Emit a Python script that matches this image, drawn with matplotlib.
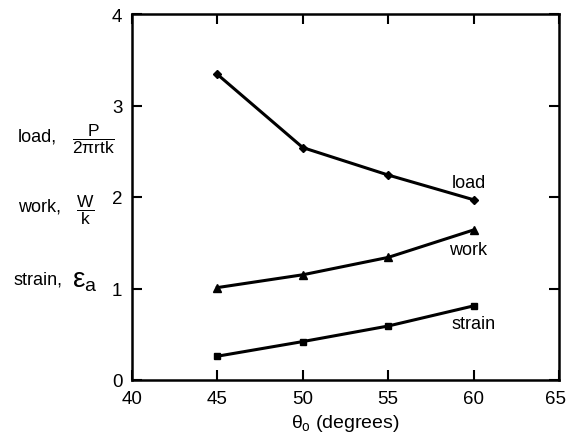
import matplotlib
matplotlib.use("Agg")
import matplotlib.pyplot as plt
import matplotlib.transforms as mtransforms

plt.rcParams['font.family'] = ['Liberation Sans', 'DejaVu Sans']
plt.rcParams['mathtext.fontset'] = 'custom'
plt.rcParams['mathtext.rm'] = 'Liberation Sans'
plt.rcParams['mathtext.it'] = 'Liberation Sans'
plt.rcParams['mathtext.sf'] = 'Liberation Sans'

theta = [45, 50, 55, 60]
load = [3.34, 2.54, 2.24, 1.97]
work = [1.01, 1.15, 1.34, 1.64]
strain = [0.26, 0.42, 0.59, 0.81]

xticks = [40, 45, 50, 55, 60, 65]
yticks = [0, 1, 2, 3, 4]

fig = plt.figure(figsize=(5.68, 4.35), dpi=100)
ax = fig.add_axes([132/568, 1 - 381/435, (559-132)/568, (381-15)/435])

ax.plot(theta, load, color='black', lw=2.2, marker='D', ms=4)
ax.plot(theta, work, color='black', lw=2.2, marker='^', ms=6)
ax.plot(theta, strain, color='black', lw=2.2, marker='s', ms=5)

ax.set_xlim(40, 65)
ax.set_ylim(0, 4)
ax.set_xticks(xticks)
ax.set_yticks(yticks)
ax.tick_params(direction='in', top=True, right=True, length=7, width=1.5, labelsize=13.5, pad=7)
for s in ax.spines.values():
    s.set_linewidth(1.8)

# nudge the last x tick label so it stays inside the figure
last = ax.get_xticklabels()[-1]
last.set_transform(last.get_transform() + mtransforms.ScaledTranslation(-3/100, 0, fig.dpi_scale_trans))

ax.set_xlabel(r'$\theta_\mathrm{o}$ (degrees)', fontsize=14, labelpad=4)

ax.text(59.7, 1.97 + 0.10, 'load', fontsize=13, ha='center', va='bottom')
ax.text(59.7, 1.64 - 0.12, 'work', fontsize=13, ha='center', va='top')
ax.text(60.0, 0.81 - 0.10, 'strain', fontsize=13, ha='center', va='top')

fig.text(18/568, 1 - 137/435, 'load,', fontsize=13, ha='left', va='center')
fig.text(72/568, 1 - 139/435, r'$\dfrac{\mathrm{P}}{2\pi \mathrm{rtk}}$', fontsize=12.5, ha='left', va='center')
fig.text(18/568, 1 - 207/435, 'work,', fontsize=13, ha='left', va='center')
fig.text(76/568, 1 - 210/435, r'$\dfrac{\mathrm{W}}{\mathrm{k}}$', fontsize=12.5, ha='left', va='center')
fig.text(14/568, 1 - 280/435, 'strain,', fontsize=13, ha='left', va='center')
fig.text(72/568, 1 - 281/435, r'$\varepsilon_\mathrm{a}$', fontsize=20, ha='left', va='center')

fig.savefig('out.png', dpi=100)
